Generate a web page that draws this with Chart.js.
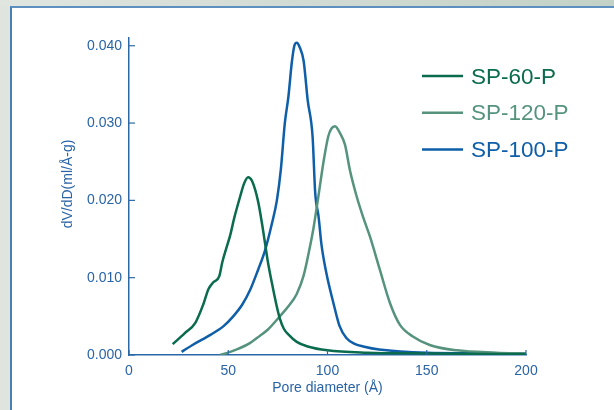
<!DOCTYPE html>
<html>
<head>
<meta charset="utf-8">
<script src="https://cdn.jsdelivr.net/npm/chart.js@4.4.1/dist/chart.umd.min.js"></script>
<style>
  html, body { margin: 0; padding: 0; }
  body {
    width: 614px; height: 410px; overflow: hidden; position: relative;
    background: #dfe4df;
  }
  #strip {
    position: absolute; left: 0; top: 0; width: 614px; height: 6px;
    background: linear-gradient(to right, #e0e5e0, #c3d1c6);
  }
  #panel {
    position: absolute; left: 10px; top: 6px; width: 620px; height: 420px;
    background: #ffffff;
    border-left: 2px solid #4a7fb6;
    border-top: 2px solid #5d8fbf;
  }
  canvas { position: absolute; left: 0; top: 0; }
</style>
</head>
<body>
<div id="strip"></div>
<div id="panel"></div>
<canvas id="grafico" width="614" height="410"></canvas>
<script>
const FONT = '"Liberation Sans", Arial, sans-serif';
const AXIS_COLOR = '#2c68a8';
const TEXT_COLOR = '#2a64a6';

// SP-60-P
const sp60X = [22, 28, 33.5, 37.5, 40, 42.5, 45.5, 47, 49, 51, 53, 56, 58, 60, 62, 65, 67, 68.5, 70, 72, 74, 76, 78, 80.5, 84.5, 90, 100, 120, 150, 200];
const sp60Y = [.0014, .0028, .0042, .0066, .0085, .0094, .0102, .0120, .0138, .0155, .0177, .0205, .0222, .0230, .0225, .0199, .0170, .0145, .0120, .0093, .0068, .0047, .0034, .0026, .0017, .0011, .0006, .0003, .0002, .0001];

// SP-120-P
const sp120X = [46, 51, 60, 66, 70, 76, 80, 84.5, 88, 91, 93, 95.4, 98, 100.4, 102, 103.8, 106.3, 108.8, 111.3, 114.7, 118, 121.4, 126.4, 131.5, 136.5, 143, 151.5, 165, 185, 200];
const sp120Y = [0, .0004, .0014, .0025, .0033, .0050, .0062, .0079, .0103, .0138, .0165, .0205, .0250, .0283, .0293, .0296, .0287, .0272, .0239, .0205, .0178, .0153, .0110, .0067, .0039, .0024, .0013, .0006, .0003, .0002];

// SP-100-P
const sp100X = [26.5, 32, 41, 47.5, 52.5, 57, 61, 65, 68.5, 72, 74.5, 76.5, 78.5, 80.3, 82, 83.3, 84.5, 86, 88, 90, 92.5, 93.8, 95.5, 97, 99.5, 103, 106, 109.5, 114, 118, 126, 150, 200];
const sp100Y = [.0004, .0013, .0026, .0037, .0050, .0065, .0084, .0110, .0135, .0170, .0200, .0240, .0300, .0334, .0378, .0400, .0404, .0398, .0380, .0330, .0282, .0210, .0179, .0142, .0105, .0067, .0038, .0022, .0014, .0011, .0007, .0003, .0002];

const SERIES = [
    { label: 'SP-60-P', xs: sp60X, ys: sp60Y, color: '#0a6b4d' },
    { label: 'SP-120-P', xs: sp120X, ys: sp120Y, color: '#55937d' },
    { label: 'SP-100-P', xs: sp100X, ys: sp100Y, color: '#0e5ea8' }
];

const yTitle = 'dV/dD(ml/Å-g)';
const xTitle = 'Pore diameter (Å)';

function pontos(xs, ys) {
    return xs.map((x, i) => ({ x: x, y: ys[i] }));
}

// ticks voltados para dentro + titulo do eixo y
const eixosPlugin = {
    id: 'eixos',
    afterDraw(chart) {
        const ctx = chart.ctx;
        const xs = chart.scales.x;
        const ys = chart.scales.y;
        ctx.save();
        ctx.strokeStyle = AXIS_COLOR;
        ctx.lineWidth = 1.2;
        ys.ticks.forEach(t => {
            const py = ys.getPixelForValue(t.value);
            ctx.beginPath();
            ctx.moveTo(ys.right, py);
            ctx.lineTo(ys.right + 6, py);
            ctx.stroke();
        });
        xs.ticks.forEach(t => {
            const px = xs.getPixelForValue(t.value);
            ctx.beginPath();
            ctx.moveTo(px, xs.top);
            ctx.lineTo(px, xs.top - 5);
            ctx.stroke();
        });
        ctx.fillStyle = TEXT_COLOR;
        ctx.font = '14px ' + FONT;
        ctx.textAlign = 'center';
        ctx.textBaseline = 'middle';
        ctx.translate(68, 184);
        ctx.rotate(-Math.PI / 2);
        ctx.fillText(yTitle, 0, 0);
        ctx.restore();
    }
};

const legendaPlugin = {
    id: 'legenda',
    afterDraw(chart) {
        const ctx = chart.ctx;
        ctx.save();
        ctx.font = '22.5px ' + FONT;
        ctx.textBaseline = 'middle';
        ctx.textAlign = 'left';
        chart.data.datasets.forEach((ds, i) => {
            const y = 76 + i * 36.7;
            ctx.strokeStyle = ds.borderColor;
            ctx.lineWidth = 2.5;
            ctx.beginPath();
            ctx.moveTo(422, y);
            ctx.lineTo(463, y);
            ctx.stroke();
            ctx.fillStyle = ds.borderColor;
            ctx.fillText(ds.label, 471, y + 1.5);
        });
        ctx.restore();
    }
};

new Chart(document.getElementById('grafico').getContext('2d'), {
    type: 'line',
    data: {
        datasets: SERIES.map(s => ({
            label: s.label,
            data: pontos(s.xs, s.ys),
            borderColor: s.color,
            backgroundColor: s.color,
            borderWidth: 2.5,
            pointRadius: 0,
            fill: false,
            cubicInterpolationMode: 'monotone'
        }))
    },
    options: {
        responsive: false,
        animation: false,
        layout: { padding: { left: 0, right: 88, top: 38, bottom: 0 } },
        plugins: {
            legend: { display: false },
            tooltip: { enabled: false }
        },
        scales: {
            x: {
                type: 'linear',
                min: 0,
                max: 200,
                afterFit: scale => { scale.height = 55; },
                grid: { display: false, drawTicks: false },
                border: { color: AXIS_COLOR, width: 1.5 },
                ticks: {
                    stepSize: 50,
                    padding: 8,
                    color: TEXT_COLOR,
                    font: { family: FONT, size: 14 }
                },
                title: {
                    display: true,
                    text: xTitle,
                    color: TEXT_COLOR,
                    font: { family: FONT, size: 14 },
                    padding: { top: 0, bottom: 13 }
                }
            },
            y: {
                min: 0,
                max: 0.041,
                afterFit: scale => { scale.width = 129; },
                grid: { display: false, drawTicks: false },
                border: { color: AXIS_COLOR, width: 1.5 },
                ticks: {
                    stepSize: 0.01,
                    includeBounds: false,
                    padding: 7,
                    color: TEXT_COLOR,
                    font: { family: FONT, size: 14 },
                    callback: v => v.toFixed(3)
                }
            }
        }
    },
    plugins: [eixosPlugin, legendaPlugin]
});
</script>
</body>
</html>
